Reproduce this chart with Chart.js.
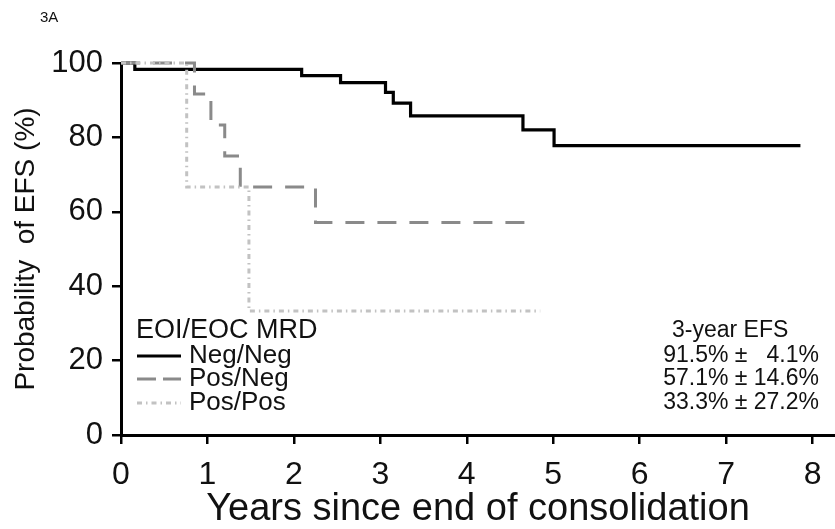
<!DOCTYPE html>
<html>
<head>
<meta charset="utf-8">
<script src="https://cdn.jsdelivr.net/npm/chart.js@4/dist/chart.umd.min.js"></script>
<style>
  html, body { margin: 0; padding: 0; background: #fff; }
  #wrap { width: 835px; height: 529px; position: relative; }
</style>
</head>
<body>
<div id="wrap"><canvas id="c" width="835" height="529"></canvas></div>
<script>
// ---- Data ----
const xTicks = [0, 1, 2, 3, 4, 5, 6, 7, 8];
const yTicks = [0, 20, 40, 60, 80, 100];

const seriesNames = ['Neg/Neg', 'Pos/Neg', 'Pos/Pos'];

const negNegTimes = [0, 0.16, 2.09, 2.54, 3.06, 3.15, 3.35, 4.65, 5.01, 7.86];
const negNegSurv  = [100, 98.3, 96.6, 94.7, 92.1, 89.2, 85.8, 82.0, 77.8, 77.8];

const posNegTimes = [0, 0.85, 1.04, 1.20, 1.38, 2.25, 4.75];
const posNegSurv  = [100, 91.7, 83.3, 75.0, 66.7, 57.1, 57.1];

const posPosTimes = [0, 0.76, 1.48, 4.85];
const posPosSurv  = [100, 66.7, 33.3, 33.3];

const efsTexts = ['91.5% \u00b1   4.1%', '57.1% \u00b1 14.6%', '33.3% \u00b1 27.2%'];

const panelLabel = '3A';
const legendTitle = 'EOI/EOC MRD';
const efsHeader = '3-year EFS';
const xTitle = 'Years since end of consolidation';
const yTitle = 'Probability  of EFS (%)';

// ---- Styles ----
const FONT = "'Liberation Sans', Arial, sans-serif";
const styles = [
  { color: '#000000', width: 3.2, dash: [] },
  { color: '#8a8a8a', width: 3, dash: [19, 13] },
  { color: '#c2c2c2', width: 3, dash: [5, 4, 1.5, 4] }
];

function toPoints(times, surv) {
  return times.map((t, i) => ({ x: t, y: surv[i] }));
}

const allSeries = [
  toPoints(negNegTimes, negNegSurv),
  toPoints(posNegTimes, posNegSurv),
  toPoints(posPosTimes, posPosSurv)
];

const overlay = {
  id: 'overlay',
  afterDraw(chart) {
    const ctx = chart.ctx;
    ctx.save();
    ctx.fillStyle = '#111';
    // panel label
    ctx.font = '15px ' + FONT;
    ctx.textAlign = 'left';
    ctx.textBaseline = 'middle';
    ctx.fillText(panelLabel, 40, 18);

    // legend
    ctx.font = '27px ' + FONT;
    ctx.fillText(legendTitle, 136, 331);
    const rowY = [356, 379, 403];
    seriesNames.forEach((name, i) => {
      const s = styles[i];
      ctx.save();
      ctx.strokeStyle = s.color;
      ctx.lineWidth = s.width;
      ctx.setLineDash(s.dash.length ? (i === 1 ? [19, 7] : s.dash) : []);
      ctx.beginPath();
      ctx.moveTo(137, rowY[i]);
      ctx.lineTo(181, rowY[i]);
      ctx.stroke();
      ctx.restore();
      ctx.fillStyle = '#111';
      ctx.font = '26px ' + FONT;
      ctx.textAlign = 'left';
      ctx.fillText(name, 189, rowY[i]);
    });

    // 3-year EFS block
    ctx.font = '23px ' + FONT;
    ctx.textAlign = 'left';
    ctx.fillText(efsHeader, 672, 331);
    efsTexts.forEach((txt, i) => {
      ctx.textAlign = 'right';
      ctx.fillText(txt, 819, rowY[i]);
    });
    ctx.restore();
  }
};

new Chart(document.getElementById('c'), {
  type: 'line',
  data: {
    datasets: allSeries.map((pts, i) => ({
      label: seriesNames[i],
      data: pts,
      borderColor: styles[i].color,
      borderWidth: styles[i].width,
      borderDash: styles[i].dash,
      borderCapStyle: 'butt',
      borderJoinStyle: 'miter',
      stepped: 'before',
      pointRadius: 0,
      fill: false,
      clip: false,
      order: 3 - i
    }))
  },
  options: {
    responsive: false,
    animation: false,
    devicePixelRatio: 1,
    layout: { padding: { top: 63, right: 0, left: 0, bottom: 0 } },
    plugins: {
      legend: { display: false },
      tooltip: { enabled: false },
      title: { display: false }
    },
    scales: {
      x: {
        type: 'linear',
        min: 0,
        max: 8.26,
        afterBuildTicks(scale) { scale.ticks = xTicks.map(v => ({ value: v })); },
        afterFit(scale) { scale.height = 94; },
        ticks: {
          color: '#111',
          font: { family: FONT, size: 32 },
          padding: 12,
          maxRotation: 0,
          autoSkip: false
        },
        grid: {
          drawOnChartArea: false,
          drawTicks: true,
          tickLength: 9,
          color: '#000',
          lineWidth: 2.5
        },
        border: { display: true, color: '#000', width: 3 },
        title: {
          display: true,
          text: xTitle,
          color: '#111',
          font: { family: FONT, size: 38, lineHeight: 1 },
          padding: { top: 0, bottom: 0 }
        }
      },
      y: {
        type: 'linear',
        min: 0,
        max: 100,
        afterBuildTicks(scale) { scale.ticks = yTicks.map(v => ({ value: v })); },
        afterFit(scale) { scale.width = 121; },
        ticks: {
          color: '#111',
          font: { family: FONT, size: 31 },
          padding: 9
        },
        grid: {
          drawOnChartArea: false,
          drawTicks: true,
          tickLength: 9,
          color: '#000',
          lineWidth: 2.5
        },
        border: { display: true, color: '#000', width: 3 },
        title: {
          display: true,
          text: yTitle,
          color: '#111',
          font: { family: FONT, size: 28 },
          padding: { top: 9, bottom: 0 }
        }
      }
    }
  },
  plugins: [overlay]
});
</script>
</body>
</html>
